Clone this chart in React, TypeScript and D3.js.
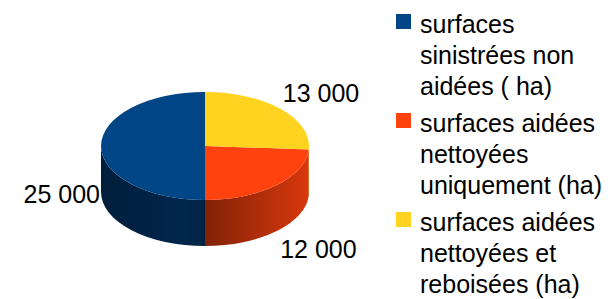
import { useMemo } from "react";
import * as d3 from "d3";

// legend order (LibreOffice default palette)
const categories = [
  "surfaces sinistrées non aidées ( ha)",
  "surfaces aidées nettoyées uniquement (ha)",
  "surfaces aidées nettoyées et reboisées (ha)",
];
const legendLines = [
  ["surfaces", "sinistrées non", "aidées ( ha)"],
  ["surfaces aidées", "nettoyées", "uniquement (ha)"],
  ["surfaces aidées", "nettoyées et", "reboisées (ha)"],
];
const values = [25000, 12000, 13000];
const colors = ["#004586", "#ff420e", "#ffd320"];

const W = 608;
const H = 299;
const FONT = "'Liberation Sans', Arial, sans-serif";
const FONT_SIZE = 25;

// pie geometry
const cx = 205;
const cy = 146;
const rx = 104;
const ry = 54;
const depth = 46;

const fmt = (v: number) => d3.format(",")(v).replace(/,/g, " ");

function pt(a: number, dy = 0): [number, number] {
  return [cx + rx * Math.sin(a), cy - ry * Math.cos(a) + dy];
}

function topPath(a0: number, a1: number) {
  const [x0, y0] = pt(a0);
  const [x1, y1] = pt(a1);
  const large = a1 - a0 > Math.PI ? 1 : 0;
  return `M${cx},${cy}L${x0},${y0}A${rx},${ry} 0 ${large} 1 ${x1},${y1}Z`;
}

function sidePath(a0: number, a1: number) {
  const [x0, y0] = pt(a0);
  const [x1, y1] = pt(a1);
  const [bx0, by0] = pt(a0, depth);
  const [bx1, by1] = pt(a1, depth);
  return `M${x0},${y0}A${rx},${ry} 0 0 1 ${x1},${y1}L${bx1},${by1}A${rx},${ry} 0 0 0 ${bx0},${by0}Z`;
}

export default function App() {
  const slices = useMemo(() => {
    // counter-clockwise from 12 o'clock, like the source chart
    const arcs = d3
      .pie<number>()
      .sort(null)
      .startAngle(0)
      .endAngle(-2 * Math.PI)(values);
    return arcs.map((a, i) => {
      const s = Math.min(a.startAngle, a.endAngle) + 2 * Math.PI;
      const e = Math.max(a.startAngle, a.endAngle) + 2 * Math.PI;
      return { i, s, e, value: values[i], color: colors[i] };
    });
  }, []);

  // only the front half of the rim is visible
  const sideOf = (s: number, e: number) => {
    const vs = Math.max(s, Math.PI / 2);
    const ve = Math.min(e, (3 * Math.PI) / 2);
    return ve > vs ? [vs, ve] : null;
  };

  // label anchors derived from the slice mid angle
  const labelPos = (s: number, e: number) => {
    const m = (s + e) / 2;
    const [x, y] = pt(m);
    if (m < Math.PI / 2) return { x: x + 2, y: y - 7, anchor: "start" };
    if (m < Math.PI) return { x: x + 4, y: y + depth + 27, anchor: "start" };
    return { x: x - 1, y: y + depth / 2 + 34, anchor: "end" };
  };

  return (
    <svg
      width={W}
      height={H}
      style={{ position: "absolute", left: 0, top: 0, background: "#fff" }}
      fontFamily={FONT}
    >
      <defs>
        {slices.map((d) => {
          const c = d3.color(d.color)!;
          return (
            <linearGradient
              key={d.i}
              id={`side-${d.i}`}
              gradientUnits="userSpaceOnUse"
              x1={cx - rx}
              x2={cx + rx}
              y1={0}
              y2={0}
            >
              <stop offset="0" stopColor={c.darker(2.3).formatHex()} />
              <stop offset="0.4" stopColor={c.darker(1.6).formatHex()} />
              <stop offset="0.5" stopColor={c.darker(1.9).formatHex()} />
              <stop offset="1" stopColor={c.darker(0.45).formatHex()} />
            </linearGradient>
          );
        })}
      </defs>

      <g className="sides">
        {slices.map((d) => {
          const v = sideOf(d.s, d.e);
          if (!v) return null;
          return <path key={d.i} d={sidePath(v[0], v[1])} fill={`url(#side-${d.i})`} />;
        })}
      </g>
      <g className="tops">
        {slices.map((d) => (
          <path key={d.i} d={topPath(d.s, d.e)} fill={d.color} />
        ))}
      </g>

      <g className="labels" fontSize={FONT_SIZE} fill="#000">
        {slices.map((d) => {
          const p = labelPos(d.s, d.e);
          return (
            <text key={d.i} x={p.x} y={p.y} textAnchor={p.anchor}>
              {fmt(d.value)}
            </text>
          );
        })}
      </g>

      <g className="legend" fontSize={FONT_SIZE} fill="#000">
        {categories.map((c, i) => (
          <g key={c} transform={`translate(396,${14 + i * 99})`}>
            <rect width={15} height={15} fill={colors[i]} />
            {legendLines[i].map((l, j) => (
              <text key={j} x={24} y={19 + j * 31}>
                {l}
              </text>
            ))}
          </g>
        ))}
      </g>
    </svg>
  );
}
